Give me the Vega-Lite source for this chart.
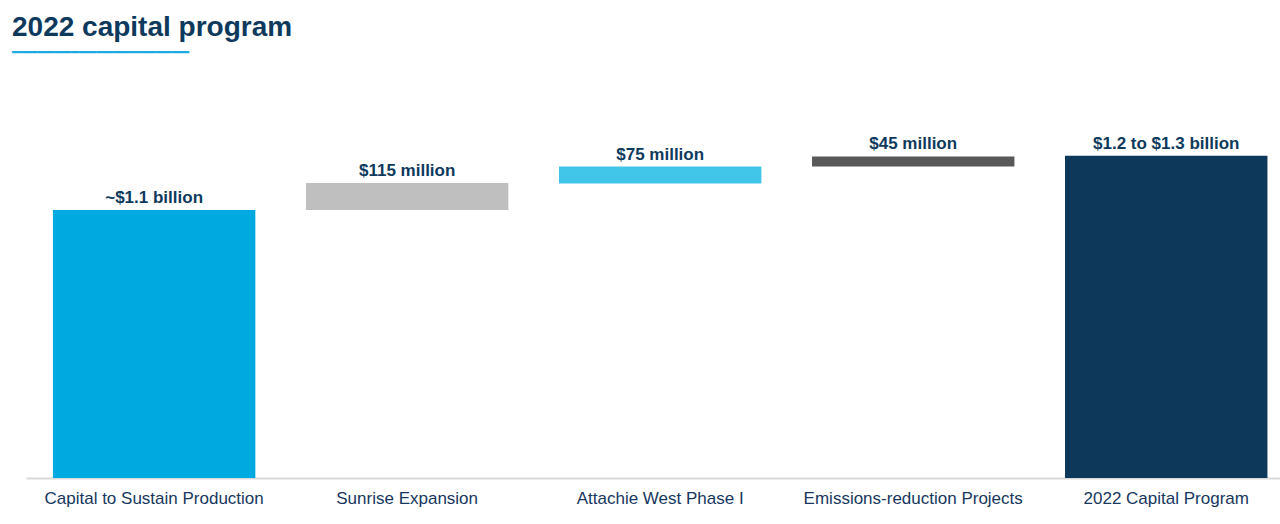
{
  "$schema": "https://vega.github.io/schema/vega-lite/v6.json",
  "autosize": {"type": "none"},
  "width": 1255,
  "height": 338,
  "padding": {"left": 26, "top": 140, "right": 0, "bottom": 46},
  "background": "white",
  "config": {"view": {"stroke": null}, "font": "Liberation Sans"},
  "title": {
    "text": "2022 capital program",
    "subtitle": "━━━━━━━━━━━━━━━━━━━━━",
    "anchor": "start",
    "frame": "group",
    "dx": -14,
    "offset": 75,
    "font": "Liberation Sans",
    "fontSize": 28,
    "fontWeight": "bold",
    "color": "#0d3a5c",
    "subtitleFont": "DejaVu Sans Mono",
    "subtitleFontSize": 14,
    "subtitleFontWeight": "bold",
    "subtitleColor": "#1aace3",
    "subtitlePadding": 4
  },
  "data": {
    "values": [
      {"category": "Capital to Sustain Production", "start": 0, "end": 1110, "label": "~$1.1 billion"},
      {"category": "Sunrise Expansion", "start": 1110, "end": 1222, "label": "$115 million"},
      {"category": "Attachie West Phase I", "start": 1220, "end": 1290, "label": "$75 million"},
      {"category": "Emissions-reduction Projects", "start": 1290, "end": 1332, "label": "$45 million"},
      {"category": "2022 Capital Program", "start": 0, "end": 1335, "label": "$1.2 to $1.3 billion"}
    ]
  },
  "encoding": {
    "x": {
      "field": "category",
      "type": "nominal",
      "sort": null,
      "scale": {"paddingInner": 0.2, "paddingOuter": 0.08, "align": 0.665},
      "axis": {
        "title": null,
        "labelAngle": 0,
        "ticks": false,
        "domainColor": "#d9d9d9",
        "domainWidth": 2,
        "labelFont": "Liberation Sans",
        "labelFontSize": 17,
        "labelColor": "#17375e",
        "labelPadding": 12,
        "labelLimit": 300
      }
    },
    "y": {
      "field": "end",
      "type": "quantitative",
      "scale": {"domain": [0, 1400], "nice": false, "zero": true},
      "axis": null
    }
  },
  "layer": [
    {
      "mark": {"type": "bar"},
      "encoding": {
        "y2": {"field": "start"},
        "color": {
          "field": "category",
          "type": "nominal",
          "scale": {
            "domain": ["Capital to Sustain Production", "Sunrise Expansion", "Attachie West Phase I", "Emissions-reduction Projects", "2022 Capital Program"],
            "range": ["#00a9e0", "#bfbfbf", "#41c5e8", "#595959", "#0e3859"]
          },
          "legend": null
        }
      }
    },
    {
      "mark": {"type": "text", "baseline": "alphabetic", "dy": -7, "font": "Liberation Sans", "fontSize": 17, "fontWeight": "bold", "color": "#0d3a5c", "clip": false},
      "encoding": {
        "text": {"field": "label"}
      }
    }
  ]
}
